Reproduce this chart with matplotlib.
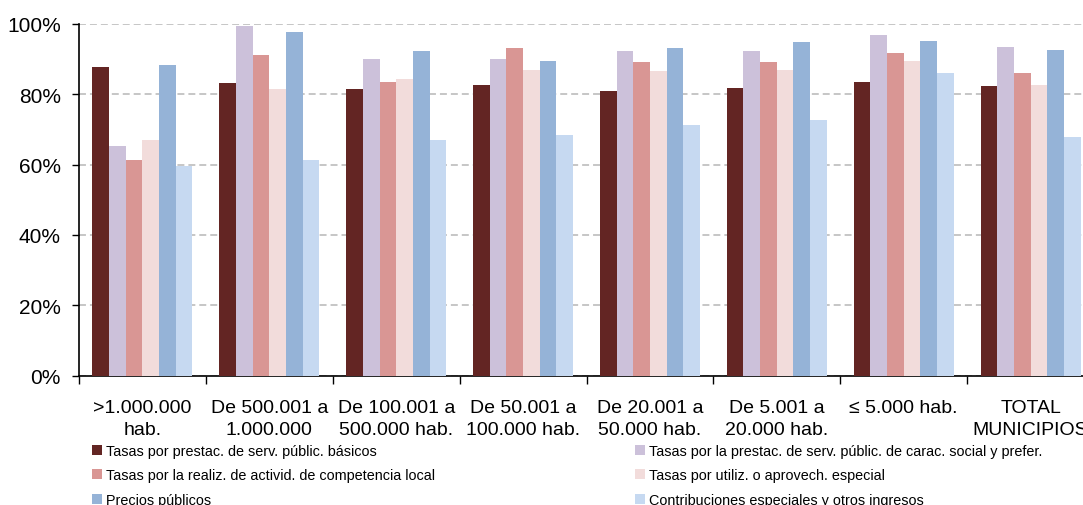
import numpy as np
from matplotlib import pyplot as plt
from matplotlib.patches import Patch

plt.rcParams['font.family'] = ['Liberation Sans', 'DejaVu Sans']

categories = ['>1.000.000\nhab.', 'De 500.001 a\n1.000.000', 'De 100.001 a\n500.000 hab.',
              'De 50.001 a\n100.000 hab.', 'De 20.001 a\n50.000 hab.', 'De 5.001 a\n20.000 hab.',
              '\u2264 5.000 hab.', 'TOTAL\nMUNICIPIOS']

series_names = ['Tasas por prestac. de serv. públic. básicos',
                'Tasas por la prestac. de serv. públic. de carac. social y prefer.',
                'Tasas por la realiz. de activid. de competencia local',
                'Tasas por utiliz. o aprovech. especial',
                'Precios públicos',
                'Contribuciones especiales y otros ingresos']

basicos = [87.7, 83.1, 81.4, 82.7, 80.9, 81.7, 83.4, 82.2]
social = [65.3, 99.4, 90.0, 90.0, 92.2, 92.2, 96.9, 93.4]
actividad = [61.4, 91.2, 83.5, 93.0, 89.1, 89.1, 91.7, 86.1]
utilizacion = [67.0, 81.4, 84.3, 86.9, 86.5, 86.9, 89.5, 82.7]
precios = [88.2, 97.7, 92.2, 89.5, 93.0, 94.7, 95.1, 92.5]
contribuciones = [59.7, 61.4, 67.0, 68.4, 71.3, 72.6, 86.1, 67.8]

colors = ['#632523', '#CCC1DA', '#D99694', '#F2DCDB', '#95B3D7', '#C6D9F1']

fig = plt.figure(figsize=(10.83, 5.06), dpi=100)
ax = fig.add_axes([79 / 1083, 129.3 / 506, 1015 / 1083, 352 / 506])

all_series = [basicos, social, actividad, utilizacion, precios, contribuciones]
x = np.arange(len(categories))
w = 0.1315
for i, vals in enumerate(all_series):
    ax.bar(x + (i - 2.5) * w, vals, width=w, color=colors[i], linewidth=0, zorder=3)

ax.set_xlim(-0.5, len(categories) - 0.5)
ax.set_ylim(0, 100)
ax.set_yticks([0, 20, 40, 60, 80, 100])
ax.set_yticklabels(['0%', '20%', '40%', '60%', '80%', '100%'], fontsize=15)
ax.yaxis.grid(True, color='#BFBFBF', linestyle=(0, (4, 2.3)), linewidth=1.25, zorder=0)
ax.tick_params(axis='y', direction='out', length=5, width=1, pad=8)

ax.set_xticks(x)
ax.set_xticklabels(categories, fontsize=14, linespacing=1.35)
ax.set_xticks(np.arange(-0.5, len(categories)), minor=True)
ax.tick_params(axis='x', which='major', length=0, pad=17)
ax.tick_params(axis='x', which='minor', direction='out', length=6, width=1)

for s in ['top', 'right']:
    ax.spines[s].set_visible(False)
ax.spines['left'].set_linewidth(1.2)
ax.spines['bottom'].set_linewidth(1.2)

handles = [Patch(facecolor=c) for c in colors]
leg_kw = dict(frameon=False, fontsize=10.4, handlelength=0.7, handleheight=0.7,
              handletextpad=0.3, labelspacing=0.72, borderpad=0, borderaxespad=0, loc='upper left')
fig.legend([handles[0], handles[2], handles[4]], [series_names[0], series_names[2], series_names[4]],
           bbox_to_anchor=(92 / 1083, 1 - 445 / 506), **leg_kw)
fig.legend([handles[1], handles[3], handles[5]], [series_names[1], series_names[3], series_names[5]],
           bbox_to_anchor=(635 / 1083, 1 - 445 / 506), **leg_kw)

plt.savefig('out.png', dpi=100)
